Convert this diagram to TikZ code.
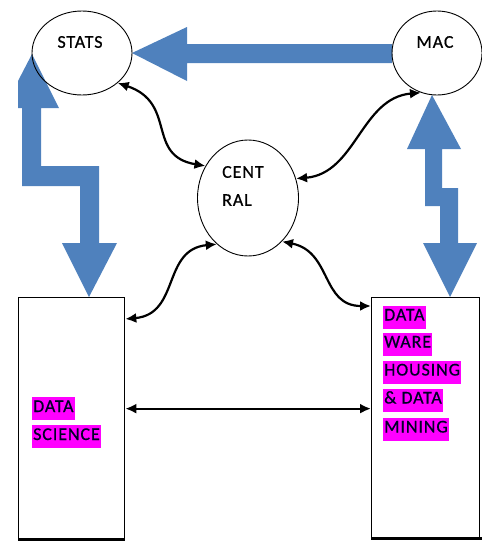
\documentclass[tikz,border=0pt]{standalone}
\usepackage{fontspec}
\setmainfont{Carlito}[FakeBold=0.6]
\usetikzlibrary{shapes.geometric,arrows.meta}
\definecolor{blueA}{RGB}{79,129,189}
\definecolor{hlmag}{RGB}{255,0,255}
\begin{document}
\begin{tikzpicture}[x=1pt,y=-1pt,
  bubble/.style={draw, ellipse, line width=0.9pt, inner sep=0pt},
  lbl/.style={font=\fontsize{18}{20}\selectfont\addfontfeatures{LetterSpace=5}, inner sep=0pt, text=black},
  hl/.style={fill=hlmag, font=\fontsize{18}{20}\selectfont\addfontfeatures{LetterSpace=5}, text=black!85!blue, inner xsep=1pt, inner ysep=0pt, text height=15pt, text depth=8pt, anchor=west},
  panel/.style={draw, line width=1.3pt, inner sep=0pt, anchor=north west, rectangle},
  link/.style={line width=2.2pt, {Latex[length=11pt,width=10pt]}-{Latex[length=11pt,width=10pt]}},
  bigarrow/.style={fill=blueA}
]
\useasboundingbox (0,0) rectangle (482,541);
% big blue arrows
\fill[bigarrow] (392,44) -- (187,44) -- (187,27) -- (132,53) -- (187,81) -- (187,63) -- (392,63) -- cycle;
\fill[bigarrow] (32,54) -- (59,108) -- (41,108) -- (41,166) -- (99,166) -- (99,243) -- (117,243) -- (89,297) -- (62,243) -- (80,243) -- (80,186) -- (22,186) -- (22,108) -- (18,108) -- (18,81) -- cycle;
\fill[bigarrow] (432,95) -- (461,149) -- (442,149) -- (442,188) -- (458,188) -- (458,243) -- (477,243) -- (450,297) -- (423,243) -- (440,243) -- (440,206) -- (425,206) -- (425,149) -- (407,149) -- cycle;
% ellipses
\node[bubble, minimum width=100pt, minimum height=84pt] (stats) at (82,53) {};
\node[bubble, minimum width=90pt, minimum height=84pt] (mac) at (437,53) {};
\node[bubble, minimum width=101pt, minimum height=116pt] (central) at (248,198) {};
\node[lbl] (statst) at (80,42) {STATS};
\node[lbl] (mact) at (435,42) {MAC};
\node[lbl, anchor=west] (cent1) at (222,172) {CENT};
\node[lbl, anchor=west] (cent2) at (222,200) {RAL};
% panels
\node[panel, minimum width=106pt, minimum height=241pt] (ds) at (18,297) {};
\node[panel, minimum width=108pt, minimum height=240pt] (dw) at (371,297) {};
\draw[line width=3pt] (ds.south west) -- (ds.south east);
\draw[line width=3pt] (dw.south west) -- ([xshift=2pt]dw.south east);
% highlighted labels
\node[hl] (ds1) at (32,408.5) {DATA};
\node[hl] (ds2) at (32,436.5) {SCIENCE};
\node[hl] (dw1) at (383,317) {DATA};
\node[hl] (dw2) at (383,344) {WARE};
\node[hl] (dw3) at (383,372) {HOUSING};
\node[hl] (dw4) at (383,400) {\& DATA};
\node[hl] (dw5) at (383,429) {MINING};
% links
\draw[link] (stats.-40) .. controls +(60,20) and +(-60,-10) .. (central.143);
\draw[link] (central.22) .. controls +(60,-5) and +(-60,5) .. (mac.-112);
\draw[link] (central.-124) .. controls +(-55,5) and +(55,-5) .. ([yshift=-22pt]ds.north east);
\draw[link] (central.-52) .. controls +(50,10) and +(-50,0) .. ([yshift=-9pt]dw.north west);
\draw[link] ([yshift=9.5pt]ds.east) -- ([yshift=9.5pt]dw.west |- ds.east);
\end{tikzpicture}
\end{document}
